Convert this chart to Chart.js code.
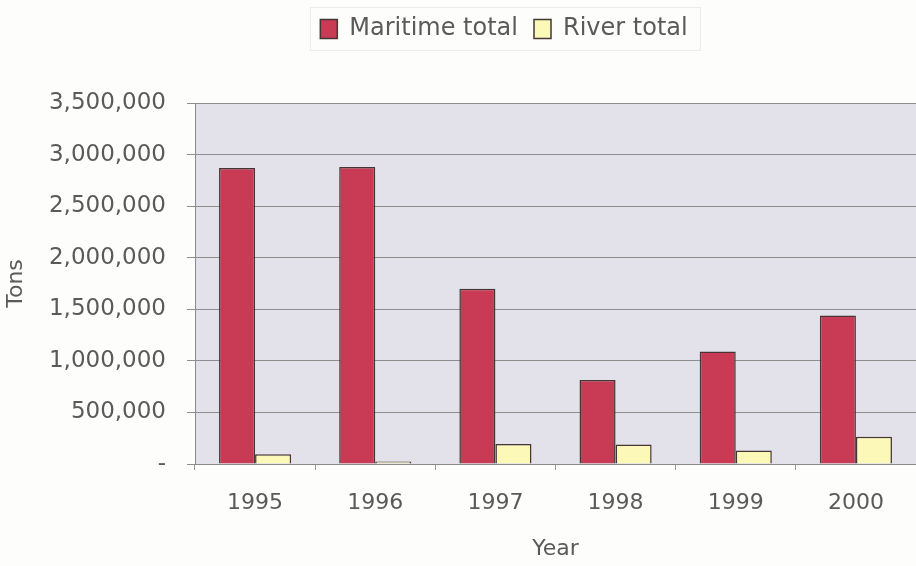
<!DOCTYPE html>
<html>
<head>
<meta charset="utf-8">
<script src="https://cdn.jsdelivr.net/npm/chart.js@4"></script>
<style>
  html, body { margin: 0; padding: 0; background: #fdfdfb; }
  #wrap { width: 916px; height: 566px; position: relative; }
</style>
</head>
<body>
<div id="wrap"><canvas id="c" width="916" height="566"></canvas></div>
<script>
const years = ['1995', '1996', '1997', '1998', '1999', '2000'];
const maritimeTotal = [2870000, 2880000, 1700000, 815000, 1090000, 1440000];
const riverTotal = [95000, 25000, 195000, 190000, 130000, 265000];
const yTicks = [0, 500000, 1000000, 1500000, 2000000, 2500000, 3000000, 3500000];

const textColor = '#5a5a5a';
const fontFamily = '"DejaVu Sans", sans-serif';

const plotBg = {
  id: 'plotBg',
  beforeDraw(chart) {
    const { ctx, chartArea: a } = chart;
    ctx.save();
    ctx.fillStyle = '#e3e1ea';
    ctx.fillRect(a.left, a.top, a.right - a.left, a.bottom - a.top);
    ctx.restore();
  }
};

const legendShift = {
  id: 'legendShift',
  afterLayout(chart) {
    const lg = chart.legend;
    const dy = lg.top - 1;
    lg.top -= dy; lg.bottom -= dy;
    lg.left += 46; lg.right += 46;
  },
  beforeDraw(chart) {
    const ctx = chart.ctx;
    ctx.save();
    ctx.strokeStyle = '#ececec';
    ctx.lineWidth = 1;
    ctx.strokeRect(310.5, 7.5, 390, 43);
    ctx.restore();
  }
};

new Chart(document.getElementById('c'), {
  type: 'bar',
  data: {
    labels: years,
    datasets: [
      { label: 'Maritime total', data: maritimeTotal, backgroundColor: '#c93a55', borderColor: '#453535', borderWidth: 1.5 },
      { label: 'River total', data: riverTotal, backgroundColor: '#fbf8b8', borderColor: '#453535', borderWidth: 1.5 }
    ]
  },
  options: {
    responsive: false,
    animation: false,
    layout: { padding: { top: 53, left: 0, right: 0, bottom: 0 } },
    datasets: { bar: { categoryPercentage: 0.6, barPercentage: 1.0 } },
    plugins: {
      legend: {
        position: 'top',
        labels: {
          color: textColor,
          font: { family: fontFamily, size: 24 },
          boxWidth: 17, boxHeight: 19,
          padding: 16
        }
      },
      tooltip: { enabled: false }
    },
    scales: {
      x: {
        grid: { drawOnChartArea: false, drawTicks: true, tickLength: 6, color: '#999', offset: true },
        border: { color: '#8a8a8a' },
        ticks: { color: textColor, font: { family: fontFamily, size: 22 }, padding: 20 },
        title: { display: true, text: 'Year', color: textColor, font: { family: fontFamily, size: 22 }, padding: { top: 0, bottom: 4 } },
        afterFit(s) { s.height = 102; }
      },
      y: {
        min: 0, max: 3500000,
        afterBuildTicks(s) { s.ticks = yTicks.map(v => ({ value: v })); },
        grid: { color: '#8e8e8e', tickLength: 8, lineWidth: 1 },
        border: { color: '#8a8a8a' },
        ticks: {
          color: textColor, font: { family: fontFamily, size: 23 }, padding: 21,
          callback(v) { return v === 0 ? '-' : Number(v).toLocaleString('en-US'); }
        },
        title: { display: true, text: 'Tons', color: textColor, font: { family: fontFamily, size: 22 }, padding: { top: 3, bottom: 0 } },
        afterFit(s) { s.width = 195; }
      }
    }
  },
  plugins: [plotBg, legendShift]
});
</script>
</body>
</html>
